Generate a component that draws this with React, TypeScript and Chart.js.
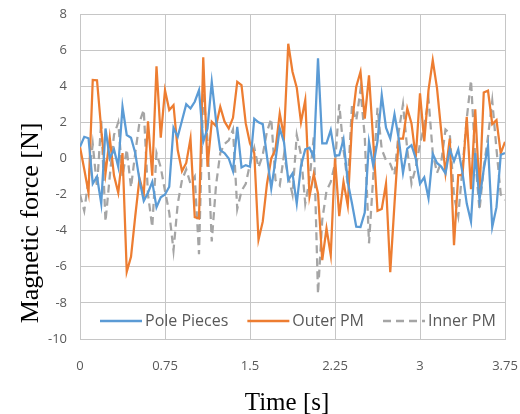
import React, { useEffect, useRef } from 'react';
import { Chart, registerables } from 'chart.js';

Chart.register(...registerables);

// sampling step of the time axis [s]
const STEP = 0.0375;

const seriesNames = ['Pole Pieces', 'Outer PM', 'Inner PM'];

const polePieces = [
  0.64, 1.2, 1.12, -1.4, -1.0, -2.5, 1.66, 0.0, 0.5, -0.46,
  2.86, 1.3, 1.15, 0.3, -1.2, -2.35, -1.9, -1.3, -2.7, -2.15,
  -2.0, -1.57, 1.7, 1.2, 2.1, 3.0, 2.77, 3.14, 3.78, 0.92,
  1.66, 4.24, 2.12, 0.46, 0.3, 0.0, -0.7, 1.75, -0.5, -0.37,
  -0.46, 2.2, 2.0, 1.9, 0.1, -1.66, -0.09, 1.66, 0.9, -1.2,
  -0.83, -2.5, -0.4, 0.5, 0.6, 0.05, 5.54, 0.83, 0.83, 1.57,
  0.15, 0.18, 1.05, -1.3, -2.5, -3.78, -3.8, -3.0, 0.92, -0.4,
  0.95, 3.5, 1.7, 1.1, 2.45, 1.1, -0.8, 0.55, 0.74, 0.0,
  -1.4, -1.05, -2.2, 0.25, -0.25, -0.45, -0.83, 0.5, -0.15, 0.5,
  -0.8, -2.5, -3.5, 0.3, -2.3, -0.6, 0.7, -3.8, -2.7, 0.2,
  0.3,
];

const outerPM = [
  0.64, -0.6, -1.9, 4.35, 4.33, 1.6, -0.83, 1.15, -0.95, -1.9,
  0.3, -6.28, -5.45, -3.2, -1.1, -2.0, 2.05, -0.95, 5.1, 1.15,
  3.78, 2.68, 2.95, 0.45, -0.7, -0.25, 1.1, -3.25, -3.32, 5.6,
  -0.46, 2.03, 1.8, 2.86, 2.05, 1.66, 2.25, 4.24, 4.06, 1.94,
  0.83, 0.3, -4.5, -3.5, -1.4, 0.0, 0.5, 2.49, 1.2, 6.35,
  4.8, 3.92, 2.0, 3.23, -2.1, -0.88, -1.94, -5.63, -3.88, -5.35,
  0.0, -3.2, -1.3, -2.6, 1.94, 3.97, 4.8, 2.2, 4.6, 0.95,
  -2.9, -2.8, -1.4, -6.3, -2.5, 1.1, 1.1, 2.77, 1.94, 0.05,
  3.6, 0.95, 3.78, 5.44, 3.9, 1.5, -0.8, 1.1, -4.8, -0.92,
  -0.92, 2.3, -1.7, 2.72, -1.9, 3.65, 3.75, 1.9, 2.12, 0.28,
  0.92,
];

const innerPM = [
  -2.0, -2.9, -1.2, 0.8, -1.6, 2.1, -3.5, -1.0, 1.3, 2.0,
  -1.0, 0.5, -1.6, 0.3, 2.0, 2.7, -2.0, -3.8, 0.3, -0.5,
  -1.8, -3.0, -5.1, -2.5, -1.2, -0.6, -1.4, -1.0, -5.3, 3.7,
  1.0, -4.6, -1.5, 0.3, 0.8, 1.0, 1.6, -2.8, -1.8, -1.4,
  -0.3, 0.6, -0.5, 0.2, 1.5, 2.2, -1.2, -1.5, 0.2, -1.0,
  -2.0, 1.3, 0.2, -2.5, -1.2, 1.2, -7.5, -3.4, -1.8, -1.3,
  -0.3, 3.0, 0.5, -1.4, 2.95, 2.1, 3.8, 1.2, -4.7, -1.0,
  2.8, 0.5, -0.1, -0.3, -0.9, 1.5, 3.0, 0.5, -1.4, -0.5,
  0.8, 1.8, 3.3, 0.3, -0.8, -0.2, 1.6, 1.4, -2.1, -3.2,
  -0.5, 2.2, 4.33, 0.0, -2.86, -0.5, 1.2, 3.2, 0.5, -2.0,
  -2.3,
];

const xTickValues = [0, 0.75, 1.5, 2.25, 3, 3.75];
const xTickLabels = ['0', '0.75', '1.5', '2.25', '3', '3.75'];
const yTickValues = [8, 6, 4, 2, 0, -2, -4, -6, -8, -10];

const xTitle = 'Time [s]';
const yTitle = 'Magnetic force [N]';

const COLORS = ['#5B9BD5', '#ED7D31', '#A5A5A5'];
const DASHES: number[][] = [[], [], [8, 5]];
const GRID = '#C6C6C6';
const TICK_COLOR = '#595959';
const SANS = '"Open Sans", "Liberation Sans", sans-serif';
const SERIF = '"Liberation Serif", "DejaVu Serif", serif';

const toPoints = (vals: number[]) => vals.map((v, i) => ({ x: i * STEP, y: v }));

const overlayPlugin = {
  id: 'overlay',
  afterDraw(chart: any) {
    const { ctx, chartArea } = chart;
    ctx.save();
    // legend inside the plot area, near the bottom
    ctx.font = `16px ${SANS}`;
    ctx.textBaseline = 'middle';
    ctx.textAlign = 'left';
    const ly = 321;
    let lx = chartArea.left + 20;
    seriesNames.forEach((name, i) => {
      ctx.strokeStyle = COLORS[i];
      ctx.lineWidth = 2.5;
      ctx.setLineDash(DASHES[i]);
      ctx.beginPath();
      ctx.moveTo(lx, ly);
      ctx.lineTo(lx + 42, ly);
      ctx.stroke();
      ctx.setLineDash([]);
      ctx.fillStyle = TICK_COLOR;
      ctx.fillText(name, lx + 45, ly);
      lx += 45 + ctx.measureText(name).width + 19;
    });
    // axis titles
    ctx.fillStyle = '#000000';
    ctx.textAlign = 'center';
    ctx.font = `25px ${SERIF}`;
    ctx.fillText(xTitle, 287, 403);
    ctx.translate(31, 223);
    ctx.rotate(-Math.PI / 2);
    ctx.font = `26px ${SERIF}`;
    ctx.fillText(yTitle, 0, 0);
    ctx.restore();
  },
};

export default function App() {
  const ref = useRef<HTMLCanvasElement | null>(null);

  useEffect(() => {
    document.body.style.margin = '0';
    const canvas = ref.current;
    if (!canvas) return;
    const chart = new Chart(canvas, {
      type: 'line',
      data: {
        datasets: [polePieces, outerPM, innerPM].map((vals, i) => ({
          label: seriesNames[i],
          data: toPoints(vals),
          borderColor: COLORS[i],
          backgroundColor: COLORS[i],
          borderWidth: 2.25,
          borderDash: DASHES[i],
          pointRadius: 0,
          tension: 0,
          fill: false,
        })),
      },
      options: {
        responsive: false,
        animation: false,
        devicePixelRatio: 1,
        layout: { padding: { left: 0, right: 15, top: 14, bottom: 0 } },
        plugins: {
          legend: { display: false },
          tooltip: { enabled: false },
          title: { display: false },
        },
        scales: {
          x: {
            type: 'linear',
            min: 0,
            max: 3.75,
            afterFit: (s: any) => {
              s.height = 75;
              s.paddingLeft = 0;
              s.paddingRight = 0;
            },
            afterBuildTicks: (s: any) => { s.ticks = xTickValues.map((v) => ({ value: v })); },
            ticks: {
              color: TICK_COLOR,
              font: { family: SANS, size: 13 },
              padding: 19,
              maxRotation: 0,
              autoSkip: false,
              callback: (v: any) => xTickLabels[xTickValues.indexOf(Number(v))] ?? '',
            },
            grid: { color: GRID, lineWidth: 1, drawTicks: false },
            border: { display: true, color: GRID },
          },
          y: {
            type: 'linear',
            min: -10,
            max: 8,
            afterFit: (s: any) => {
              s.width = 80;
              s.paddingTop = 0;
              s.paddingBottom = 0;
            },
            afterBuildTicks: (s: any) => { s.ticks = yTickValues.map((v) => ({ value: v })); },
            ticks: {
              color: TICK_COLOR,
              font: { family: SANS, size: 13 },
              padding: 13,
              autoSkip: false,
            },
            grid: { color: GRID, lineWidth: 1, drawTicks: false },
            border: { display: true, color: GRID },
          },
        },
      },
      plugins: [overlayPlugin],
    });
    return () => chart.destroy();
  }, []);

  return (
    <div style={{ position: 'absolute', left: 0, top: 0, width: 520, height: 414 }}>
      <canvas ref={ref} width={520} height={414} style={{ display: 'block', width: 520, height: 414 }} />
    </div>
  );
}
